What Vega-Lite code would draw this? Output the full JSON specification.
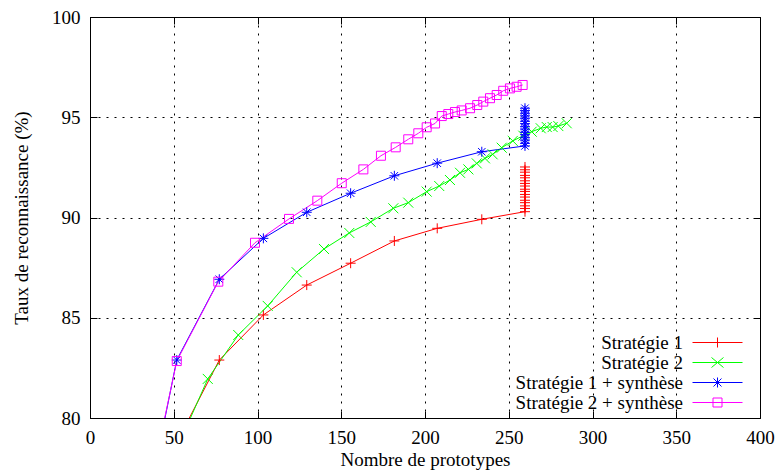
{
  "$schema": "https://vega.github.io/schema/vega-lite/v6.json",
  "width": 670,
  "height": 401,
  "autosize": {"type": "none"},
  "padding": {"left": 90, "top": 17, "right": 17, "bottom": 52},
  "config": {
    "view": {"stroke": "black", "strokeWidth": 1},
    "font": "Liberation Serif",
    "axis": {"labelFont": "Liberation Serif", "titleFont": "Liberation Serif", "labelColor": "black", "titleColor": "black", "labelFontSize": 19, "titleFontSize": 19, "titleFontWeight": "normal", "tickColor": "black", "domain": false}
  },
  "data": {"values": [
    {"s": "Stratégie 1", "i": 0, "x": 51.5, "y": 78.74},
    {"s": "Stratégie 1", "i": 1, "x": 77.2, "y": 82.89},
    {"s": "Stratégie 1", "i": 2, "x": 103.5, "y": 85.14},
    {"s": "Stratégie 1", "i": 3, "x": 129.4, "y": 86.63},
    {"s": "Stratégie 1", "i": 4, "x": 155.6, "y": 87.72},
    {"s": "Stratégie 1", "i": 5, "x": 181.7, "y": 88.83},
    {"s": "Stratégie 1", "i": 6, "x": 207.3, "y": 89.46},
    {"s": "Stratégie 1", "i": 7, "x": 233.9, "y": 89.91},
    {"s": "Stratégie 1", "i": 8, "x": 259.7, "y": 90.29},
    {"s": "Stratégie 1", "i": 9, "x": 259.7, "y": 90.45},
    {"s": "Stratégie 1", "i": 10, "x": 259.7, "y": 90.58},
    {"s": "Stratégie 1", "i": 11, "x": 259.7, "y": 90.74},
    {"s": "Stratégie 1", "i": 12, "x": 259.7, "y": 90.86},
    {"s": "Stratégie 1", "i": 13, "x": 259.7, "y": 91.02},
    {"s": "Stratégie 1", "i": 14, "x": 259.7, "y": 91.15},
    {"s": "Stratégie 1", "i": 15, "x": 259.7, "y": 91.30},
    {"s": "Stratégie 1", "i": 16, "x": 259.7, "y": 91.41},
    {"s": "Stratégie 1", "i": 17, "x": 259.7, "y": 91.57},
    {"s": "Stratégie 1", "i": 18, "x": 259.7, "y": 91.70},
    {"s": "Stratégie 1", "i": 19, "x": 259.7, "y": 91.83},
    {"s": "Stratégie 1", "i": 20, "x": 259.7, "y": 91.98},
    {"s": "Stratégie 1", "i": 21, "x": 259.7, "y": 92.10},
    {"s": "Stratégie 1", "i": 22, "x": 259.7, "y": 92.26},
    {"s": "Stratégie 1", "i": 23, "x": 259.7, "y": 92.38},
    {"s": "Stratégie 1", "i": 24, "x": 259.7, "y": 92.52},
    {"s": "Stratégie 2", "i": 0, "x": 51.5, "y": 78.4},
    {"s": "Stratégie 2", "i": 1, "x": 70.3, "y": 81.95},
    {"s": "Stratégie 2", "i": 2, "x": 88.5, "y": 84.14},
    {"s": "Stratégie 2", "i": 3, "x": 106.1, "y": 85.59},
    {"s": "Stratégie 2", "i": 4, "x": 123.4, "y": 87.27},
    {"s": "Stratégie 2", "i": 5, "x": 139.7, "y": 88.43},
    {"s": "Stratégie 2", "i": 6, "x": 154.8, "y": 89.23},
    {"s": "Stratégie 2", "i": 7, "x": 167.6, "y": 89.78},
    {"s": "Stratégie 2", "i": 8, "x": 181.1, "y": 90.46},
    {"s": "Stratégie 2", "i": 9, "x": 190.0, "y": 90.74},
    {"s": "Stratégie 2", "i": 10, "x": 201.0, "y": 91.29},
    {"s": "Stratégie 2", "i": 11, "x": 208.5, "y": 91.57},
    {"s": "Stratégie 2", "i": 12, "x": 214.9, "y": 91.87},
    {"s": "Stratégie 2", "i": 13, "x": 220.9, "y": 92.23},
    {"s": "Stratégie 2", "i": 14, "x": 225.9, "y": 92.40},
    {"s": "Stratégie 2", "i": 15, "x": 230.9, "y": 92.70},
    {"s": "Stratégie 2", "i": 16, "x": 235.8, "y": 92.95},
    {"s": "Stratégie 2", "i": 17, "x": 240.4, "y": 93.15},
    {"s": "Stratégie 2", "i": 18, "x": 245.8, "y": 93.48},
    {"s": "Stratégie 2", "i": 19, "x": 252.4, "y": 93.82},
    {"s": "Stratégie 2", "i": 20, "x": 258.7, "y": 94.08},
    {"s": "Stratégie 2", "i": 21, "x": 263.7, "y": 94.28},
    {"s": "Stratégie 2", "i": 22, "x": 269.1, "y": 94.45},
    {"s": "Stratégie 2", "i": 23, "x": 272.7, "y": 94.51},
    {"s": "Stratégie 2", "i": 24, "x": 276.2, "y": 94.51},
    {"s": "Stratégie 2", "i": 25, "x": 279.6, "y": 94.56},
    {"s": "Stratégie 2", "i": 26, "x": 284.6, "y": 94.70},
    {"s": "Stratégie 1 + synthèse", "i": 0, "x": 25.8, "y": 72.2},
    {"s": "Stratégie 1 + synthèse", "i": 1, "x": 51.8, "y": 82.89},
    {"s": "Stratégie 1 + synthèse", "i": 2, "x": 77.2, "y": 86.92},
    {"s": "Stratégie 1 + synthèse", "i": 3, "x": 103.5, "y": 88.96},
    {"s": "Stratégie 1 + synthèse", "i": 4, "x": 129.4, "y": 90.26},
    {"s": "Stratégie 1 + synthèse", "i": 5, "x": 155.6, "y": 91.21},
    {"s": "Stratégie 1 + synthèse", "i": 6, "x": 181.7, "y": 92.08},
    {"s": "Stratégie 1 + synthèse", "i": 7, "x": 207.3, "y": 92.71},
    {"s": "Stratégie 1 + synthèse", "i": 8, "x": 233.9, "y": 93.28},
    {"s": "Stratégie 1 + synthèse", "i": 9, "x": 259.7, "y": 93.57},
    {"s": "Stratégie 1 + synthèse", "i": 10, "x": 259.7, "y": 93.70},
    {"s": "Stratégie 1 + synthèse", "i": 11, "x": 259.7, "y": 93.86},
    {"s": "Stratégie 1 + synthèse", "i": 12, "x": 259.7, "y": 93.98},
    {"s": "Stratégie 1 + synthèse", "i": 13, "x": 259.7, "y": 94.13},
    {"s": "Stratégie 1 + synthèse", "i": 14, "x": 259.7, "y": 94.25},
    {"s": "Stratégie 1 + synthèse", "i": 15, "x": 259.7, "y": 94.41},
    {"s": "Stratégie 1 + synthèse", "i": 16, "x": 259.7, "y": 94.53},
    {"s": "Stratégie 1 + synthèse", "i": 17, "x": 259.7, "y": 94.68},
    {"s": "Stratégie 1 + synthèse", "i": 18, "x": 259.7, "y": 94.80},
    {"s": "Stratégie 1 + synthèse", "i": 19, "x": 259.7, "y": 94.95},
    {"s": "Stratégie 1 + synthèse", "i": 20, "x": 259.7, "y": 95.07},
    {"s": "Stratégie 1 + synthèse", "i": 21, "x": 259.7, "y": 95.20},
    {"s": "Stratégie 1 + synthèse", "i": 22, "x": 259.7, "y": 95.33},
    {"s": "Stratégie 1 + synthèse", "i": 23, "x": 259.7, "y": 95.45},
    {"s": "Stratégie 2 + synthèse", "i": 0, "x": 25.8, "y": 72.6},
    {"s": "Stratégie 2 + synthèse", "i": 1, "x": 51.8, "y": 82.84},
    {"s": "Stratégie 2 + synthèse", "i": 2, "x": 76.6, "y": 86.80},
    {"s": "Stratégie 2 + synthèse", "i": 3, "x": 98.5, "y": 88.74},
    {"s": "Stratégie 2 + synthèse", "i": 4, "x": 118.8, "y": 89.93},
    {"s": "Stratégie 2 + synthèse", "i": 5, "x": 135.7, "y": 90.84},
    {"s": "Stratégie 2 + synthèse", "i": 6, "x": 150.3, "y": 91.71},
    {"s": "Stratégie 2 + synthèse", "i": 7, "x": 163.2, "y": 92.40},
    {"s": "Stratégie 2 + synthèse", "i": 8, "x": 173.7, "y": 93.08},
    {"s": "Stratégie 2 + synthèse", "i": 9, "x": 182.5, "y": 93.50},
    {"s": "Stratégie 2 + synthèse", "i": 10, "x": 190.0, "y": 93.90},
    {"s": "Stratégie 2 + synthèse", "i": 11, "x": 196.0, "y": 94.20},
    {"s": "Stratégie 2 + synthèse", "i": 12, "x": 201.0, "y": 94.50},
    {"s": "Stratégie 2 + synthèse", "i": 13, "x": 206.0, "y": 94.69},
    {"s": "Stratégie 2 + synthèse", "i": 14, "x": 210.0, "y": 95.06},
    {"s": "Stratégie 2 + synthèse", "i": 15, "x": 213.9, "y": 95.16},
    {"s": "Stratégie 2 + synthèse", "i": 16, "x": 217.9, "y": 95.26},
    {"s": "Stratégie 2 + synthèse", "i": 17, "x": 221.9, "y": 95.34},
    {"s": "Stratégie 2 + synthèse", "i": 18, "x": 226.9, "y": 95.45},
    {"s": "Stratégie 2 + synthèse", "i": 19, "x": 231.2, "y": 95.61},
    {"s": "Stratégie 2 + synthèse", "i": 20, "x": 234.8, "y": 95.78},
    {"s": "Stratégie 2 + synthèse", "i": 21, "x": 238.8, "y": 95.95},
    {"s": "Stratégie 2 + synthèse", "i": 22, "x": 242.8, "y": 96.11},
    {"s": "Stratégie 2 + synthèse", "i": 23, "x": 246.7, "y": 96.32},
    {"s": "Stratégie 2 + synthèse", "i": 24, "x": 250.7, "y": 96.44},
    {"s": "Stratégie 2 + synthèse", "i": 25, "x": 254.7, "y": 96.52},
    {"s": "Stratégie 2 + synthèse", "i": 26, "x": 258.3, "y": 96.61}
  ]},
  "layer": [
    {
      "mark": {"type": "line", "clip": true, "strokeWidth": 1},
      "encoding": {
        "x": {"field": "x", "type": "quantitative", "scale": {"domain": [0, 400], "nice": false, "zero": false},
          "axis": {"orient": "bottom", "title": "Nombre de prototypes", "values": [0, 50, 100, 150, 200, 250, 300, 350, 400], "grid": true, "gridColor": "black", "gridDash": [2, 6], "gridOpacity": 1, "tickSize": -7, "labelPadding": 17, "titlePadding": 3, "labelFlush": false}},
        "y": {"field": "y", "type": "quantitative", "scale": {"domain": [80, 100], "nice": false, "zero": false},
          "axis": {"orient": "left", "title": "Taux de reconnaissance (%)", "values": [80, 85, 90, 95, 100], "grid": true, "gridColor": "black", "gridDash": [2, 6], "gridOpacity": 1, "tickSize": -7, "labelPadding": 17, "titlePadding": 20, "labelFlush": false}},
        "color": {"field": "s", "type": "nominal", "scale": {"domain": ["Stratégie 1", "Stratégie 2", "Stratégie 1 + synthèse", "Stratégie 2 + synthèse"], "range": ["#ff0000", "#00ff00", "#0000ff", "#ff00ff"]}, "legend": null},
        "order": {"field": "i", "type": "quantitative"}
      }
    },
    {
      "mark": {"type": "point", "clip": true, "filled": false, "strokeWidth": 1, "size": 100, "opacity": 1},
      "encoding": {
        "x": {"field": "x", "type": "quantitative", "axis": {"orient": "top", "title": null, "labels": false, "grid": false, "tickSize": -7, "values": [0, 50, 100, 150, 200, 250, 300, 350, 400]}},
        "y": {"field": "y", "type": "quantitative", "axis": {"orient": "right", "title": null, "labels": false, "grid": false, "tickSize": -7, "values": [80, 85, 90, 95, 100]}},
        "color": {"field": "s", "type": "nominal", "scale": {"domain": ["Stratégie 1", "Stratégie 2", "Stratégie 1 + synthèse", "Stratégie 2 + synthèse"], "range": ["#ff0000", "#00ff00", "#0000ff", "#ff00ff"]}, "legend": null},
        "shape": {"field": "s", "type": "nominal", "scale": {"domain": ["Stratégie 1", "Stratégie 2", "Stratégie 1 + synthèse", "Stratégie 2 + synthèse"], "range": ["M-1,0H1M0,-1V1", "M-1,-1L1,1M-1,1L1,-1", "M-1,0H1M0,-1V1M-0.75,-0.75L0.75,0.75M-0.75,0.75L0.75,-0.75", "M-0.9,-0.9H0.9V0.9H-0.9Z"]}, "legend": null}
      }
    },
    {
      "mark": {"type": "point", "clip": true, "filled": false, "strokeWidth": 1, "size": 100, "opacity": 0},
      "encoding": {
        "x": {"field": "x", "type": "quantitative", "axis": null},
        "y": {"field": "y", "type": "quantitative", "axis": null},
        "color": {"field": "s", "type": "nominal", "scale": {"domain": ["Stratégie 1", "Stratégie 2", "Stratégie 1 + synthèse", "Stratégie 2 + synthèse"], "range": ["#ff0000", "#00ff00", "#0000ff", "#ff00ff"]},
          "legend": {"orient": "none", "legendX": 618, "legendY": 316, "title": null, "labelFont": "Liberation Serif", "labelFontSize": 19, "labelColor": "black", "labelAlign": "right", "labelOffset": -44, "labelLimit": 0, "symbolSize": 100, "symbolStrokeWidth": 1, "symbolOpacity": 1, "rowPadding": -5, "padding": 0}},
        "shape": {"field": "s", "type": "nominal", "scale": {"domain": ["Stratégie 1", "Stratégie 2", "Stratégie 1 + synthèse", "Stratégie 2 + synthèse"], "range": ["M-5,0H5M0,-1V1", "M-5,0H5M-1.2,-1L1.2,1M-1.2,1L1.2,-1", "M-5,0H5M0,-1V1M-0.8,-0.8L0.8,0.8M-0.8,0.8L0.8,-0.8", "M-5,0H5M-0.9,-0.9H0.9V0.9H-0.9Z"]},
          "legend": {"orient": "none", "legendX": 618, "legendY": 316, "title": null, "labelFont": "Liberation Serif", "labelFontSize": 19, "labelColor": "black", "labelAlign": "right", "labelOffset": -44, "labelLimit": 0, "symbolSize": 100, "symbolStrokeWidth": 1, "symbolOpacity": 1, "rowPadding": -5, "padding": 0}}
      }
    }
  ],
  "resolve": {"scale": {"shape": "independent", "color": "independent"}, "axis": {"x": "independent", "y": "independent"}}
}
